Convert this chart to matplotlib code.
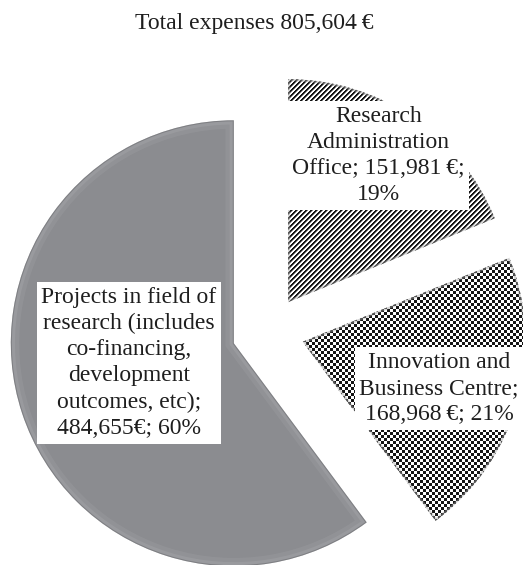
import numpy as np
import matplotlib.pyplot as plt
from matplotlib.patches import Wedge

plt.rcParams["font.family"] = ["Liberation Serif", "DejaVu Serif"]

# Expense breakdown
categories = [
    "Projects in field of\nresearch (includes\nco-financing,\ndevelopment\noutcomes, etc)",
    "Innovation and\nBusiness Centre",
    "Research\nAdministration\nOffice",
]
amounts = [484655, 168968, 151981]
label_formats = [
    "{name};\n{value}€; {pct}%",
    "{name};\n{value}\u2009€; {pct}%",
    "{name}; {value}\u2009€;\n{pct}%",
]
fills = ["gray", "checker", "stripes"]

total = sum(amounts)

W, H = 523, 565
fig = plt.figure(figsize=(W / 100, H / 100), dpi=100)
ax = fig.add_axes([0, 0, 1, 1])

RADIUS = 223
CENTER = (268, 233)
EXPLODE = 36

wedges, _ = ax.pie(
    amounts,
    radius=RADIUS,
    center=CENTER,
    startangle=90,
    counterclock=True,
    explode=[EXPLODE] * len(amounts),
    colors=["#8b8c90", "white", "white"],
    wedgeprops=dict(linewidth=0),
)
ax.set_xlim(0, W)
ax.set_ylim(0, H)
ax.set_aspect("equal")
ax.axis("off")

# pixel textures used to fill the patterned slices
rows, cols = np.mgrid[0:H, 0:W]
diag = (rows + cols) % 5
stripe_tex = np.choose(diag, [0.08, 0.08, 0.5, 1.0, 1.0])
checker_tex = np.where(((rows // 3) + (cols // 3)) % 2 == 0, 0.08, 1.0)
textures = {"stripes": stripe_tex, "checker": checker_tex}


def rim(wedge, color, lw, alpha):
    p = Wedge(wedge.center, wedge.r, wedge.theta1, wedge.theta2,
              facecolor="none", edgecolor=color, linewidth=lw,
              alpha=alpha, zorder=3)
    ax.add_patch(p)
    p.set_clip_path(wedge)


for wedge, fill in zip(wedges, fills):
    if fill in textures:
        im = ax.imshow(textures[fill], cmap="gray", vmin=0, vmax=1,
                       extent=(0, W, 0, H), origin="upper",
                       interpolation="nearest", zorder=2)
        im.set_clip_path(wedge)
        rim(wedge, "#a0a0a0", 3, 0.45)
    else:
        # soft bevel on the solid slice
        rim(wedge, "white", 12, 0.06)
        rim(wedge, "white", 6, 0.08)
        rim(wedge, "#4a4b4f", 1.5, 0.35)

# data labels placed inside each slice
label_place = [(0.478, -7.7), (0.647, -3.2), (0.771, 2.3)]  # (radius fraction, angle shift)
for wedge, name, value, fmt, (frac, shift) in zip(wedges, categories, amounts,
                                                   label_formats, label_place):
    theta = np.deg2rad((wedge.theta1 + wedge.theta2) / 2 + shift)
    cx, cy = wedge.center
    x = cx + frac * wedge.r * np.cos(theta)
    y = cy + frac * wedge.r * np.sin(theta)
    text = fmt.format(name=name, value=f"{value:,}", pct=round(100 * value / total))
    ax.text(x, y, text, ha="center", va="center", fontsize=17,
            color="#1e1e1e", linespacing=1.32, zorder=5,
            bbox=dict(boxstyle="square,pad=0.2", facecolor="white",
                      edgecolor="none"))

fig.text(0.487, 1 - 24 / H, f"Total expenses {total:,}\u2009€",
         ha="center", va="center", fontsize=17, color="#1e1e1e")

fig.savefig("out.png", dpi=100)
